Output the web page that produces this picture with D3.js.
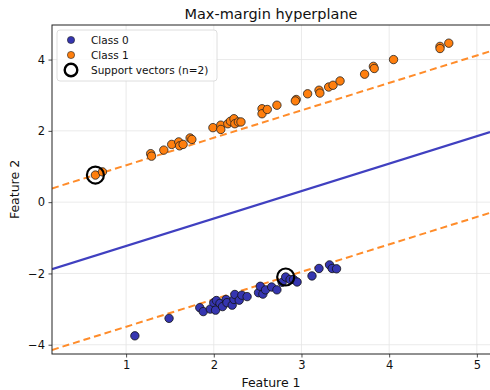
<!DOCTYPE html>
<html lang="en">
<head>
    <meta charset="UTF-8" />
    <title>Max-margin hyperplane</title>
    <script src="https://d3js.org/d3.v7.min.js"></script>
    <style>
        body {
            margin: 0;
            background: white;
            font-family: 'DejaVu Sans', sans-serif;
        }
        svg text {
            fill: #111;
        }
    </style>
</head>
<body>
    <script>
        // class 0 (blue) points
        const class0X = [1.10, 1.49, 1.84, 1.88, 1.96, 2.00, 2.03, 2.02, 2.07, 2.10, 2.14, 2.15, 2.21, 2.23, 2.24,
            2.29, 2.32, 2.38, 2.51, 2.53, 2.56, 2.59, 2.66, 2.72, 2.78, 2.82, 2.87, 2.91, 2.95, 3.12, 3.20, 3.32, 3.35, 3.40];
        const class0Y = [-3.75, -3.26, -2.96, -3.07, -3.00, -2.82, -2.76, -3.03, -2.84, -2.93, -2.73, -2.82, -2.89, -2.73, -2.59,
            -2.75, -2.61, -2.65, -2.54, -2.36, -2.58, -2.46, -2.38, -2.46, -2.25, -2.10, -2.17, -2.17, -2.24, -2.07, -1.86, -1.76, -1.86, -1.87];

        // class 1 (orange) points
        const class1X = [0.65, 0.73, 1.28, 1.29, 1.43, 1.52, 1.60, 1.61, 1.65, 1.73, 1.75, 1.99, 2.08, 2.08, 2.16, 2.19, 2.23,
            2.24, 2.28, 2.31, 2.55, 2.55, 2.61, 2.72, 2.94, 2.93, 3.07, 3.20, 3.21, 3.31, 3.36, 3.44, 3.72, 3.82, 3.83, 4.05, 4.58, 4.58, 4.68];
        const class1Y = [0.76, 0.85, 1.36, 1.29, 1.46, 1.62, 1.69, 1.58, 1.62, 1.80, 1.76, 2.09, 2.16, 2.04, 2.20, 2.27, 2.34,
            2.20, 2.25, 2.25, 2.62, 2.48, 2.60, 2.72, 2.88, 2.84, 3.04, 3.14, 3.06, 3.23, 3.28, 3.40, 3.59, 3.81, 3.75, 4.00, 4.37, 4.31, 4.46];

        // support vectors
        const svX = [0.65, 2.82];
        const svY = [0.76, -2.10];

        // hyperplane y = slope * x + intercept, margins at +/- offset
        const slope = 0.77;
        const intercept = -2.0;
        const marginOffset = 2.265;

        const xTicks = [1, 2, 3, 4, 5];
        const yTicks = [-4, -2, 0, 2, 4];

        const width = 490, height = 390;
        const margin = { top: 25, right: 0, bottom: 36, left: 52 };

        const svg = d3.select('body').append('svg')
            .attr('width', width)
            .attr('height', height);

        const x = d3.scaleLinear().domain([0.155, 5.15]).range([margin.left, width - margin.right]);
        const y = d3.scaleLinear().domain([-4.26, 4.97]).range([height - margin.bottom, margin.top]);

        svg.append('defs').append('clipPath').attr('id', 'plot')
            .append('rect')
            .attr('x', margin.left).attr('y', margin.top)
            .attr('width', width - margin.right - margin.left)
            .attr('height', height - margin.bottom - margin.top);

        // grid
        svg.append('g').selectAll('line').data(xTicks).join('line')
            .attr('x1', d => x(d)).attr('x2', d => x(d))
            .attr('y1', margin.top).attr('y2', height - margin.bottom)
            .attr('stroke', '#e5e5e5').attr('stroke-width', 0.8);
        svg.append('g').selectAll('line').data(yTicks).join('line')
            .attr('y1', d => y(d)).attr('y2', d => y(d))
            .attr('x1', margin.left).attr('x2', width - margin.right)
            .attr('stroke', '#e5e5e5').attr('stroke-width', 0.8);

        // hyperplane + margins
        const xd = x.domain();
        const lines = [
            { off: 0, color: '#4040c0', dash: null, w: 2.2 },
            { off: marginOffset, color: '#ff8c2a', dash: '7,4', w: 2 },
            { off: -marginOffset, color: '#ff8c2a', dash: '7,4', w: 2 }
        ];
        svg.append('g').attr('clip-path', 'url(#plot)')
            .selectAll('line').data(lines).join('line')
            .attr('x1', x(xd[0])).attr('x2', x(xd[1]))
            .attr('y1', d => y(slope * xd[0] + intercept + d.off))
            .attr('y2', d => y(slope * xd[1] + intercept + d.off))
            .attr('stroke', d => d.color)
            .attr('stroke-width', d => d.w)
            .attr('stroke-dasharray', d => d.dash);

        // points
        const pts = svg.append('g').attr('clip-path', 'url(#plot)');
        pts.selectAll('circle.c0').data(d3.range(class0X.length)).join('circle')
            .attr('class', 'c0')
            .attr('cx', i => x(class0X[i])).attr('cy', i => y(class0Y[i]))
            .attr('r', 4.2)
            .attr('fill', '#3535b0').attr('stroke', '#111').attr('stroke-width', 0.8);
        pts.selectAll('circle.c1').data(d3.range(class1X.length)).join('circle')
            .attr('class', 'c1')
            .attr('cx', i => x(class1X[i])).attr('cy', i => y(class1Y[i]))
            .attr('r', 4.2)
            .attr('fill', '#ff7f0e').attr('stroke', '#222').attr('stroke-width', 0.8);
        pts.selectAll('circle.sv').data(d3.range(svX.length)).join('circle')
            .attr('class', 'sv')
            .attr('cx', i => x(svX[i])).attr('cy', i => y(svY[i]))
            .attr('r', 8.5)
            .attr('fill', 'none').attr('stroke', '#000').attr('stroke-width', 2.2);

        // axes
        const xAxis = svg.append('g')
            .attr('transform', `translate(0,${height - margin.bottom})`)
            .call(d3.axisBottom(x).tickValues(xTicks).tickSize(3.5).tickPadding(3.5).tickFormat(d3.format('d')));
        const yAxis = svg.append('g')
            .attr('transform', `translate(${margin.left},0)`)
            .call(d3.axisLeft(y).tickValues(yTicks).tickSize(3.5).tickPadding(3.5).tickFormat(d => d < 0 ? '\u2212' + Math.abs(d) : d));
        [xAxis, yAxis].forEach(a => {
            a.selectAll('text').attr('font-size', 11.5).attr('font-family', 'DejaVu Sans').style('fill', '#111');
            a.selectAll('.tick line').attr('stroke', '#222').attr('stroke-width', 0.8);
            a.select('.domain').remove();
        });

        // spines
        svg.append('rect')
            .attr('x', margin.left).attr('y', margin.top)
            .attr('width', width - margin.right - margin.left + 2)
            .attr('height', height - margin.bottom - margin.top)
            .attr('fill', 'none').attr('stroke', '#222').attr('stroke-width', 1);

        // titles
        svg.append('text').attr('x', (margin.left + width) / 2).attr('y', 19)
            .attr('text-anchor', 'middle').attr('font-size', 14.5).text('Max-margin hyperplane');
        svg.append('text').attr('x', (margin.left + width) / 2).attr('y', 387)
            .attr('text-anchor', 'middle').attr('font-size', 12.5).text('Feature 1');
        svg.append('text').attr('transform', `translate(19,${(margin.top + height - margin.bottom) / 2}) rotate(-90)`)
            .attr('text-anchor', 'middle').attr('font-size', 12.5).text('Feature 2');

        // legend
        const lg = svg.append('g');
        lg.append('rect').attr('x', 57).attr('y', 30).attr('width', 160).attr('height', 51).attr('rx', 3)
            .attr('fill', 'white').attr('fill-opacity', 0.85).attr('stroke', '#d6d6d6').attr('stroke-width', 0.8);
        const legendItems = [
            { label: 'Class 0', type: 'c0' },
            { label: 'Class 1', type: 'c1' },
            { label: 'Support vectors (n=2)', type: 'sv' }
        ];
        legendItems.forEach((d, i) => {
            const cy = 40 + i * 15;
            if (d.type === 'sv') {
                lg.append('circle').attr('cx', 71).attr('cy', cy).attr('r', 6.3)
                    .attr('fill', 'none').attr('stroke', '#000').attr('stroke-width', 2.4);
            } else {
                lg.append('circle').attr('cx', 71).attr('cy', cy).attr('r', 3.6)
                    .attr('fill', d.type === 'c0' ? '#3535b0' : '#ff7f0e')
                    .attr('stroke', '#222').attr('stroke-width', 0.6);
            }
            lg.append('text').attr('x', 91).attr('y', cy + 4).attr('font-size', 10.5).text(d.label);
        });
    </script>
</body>
</html>
